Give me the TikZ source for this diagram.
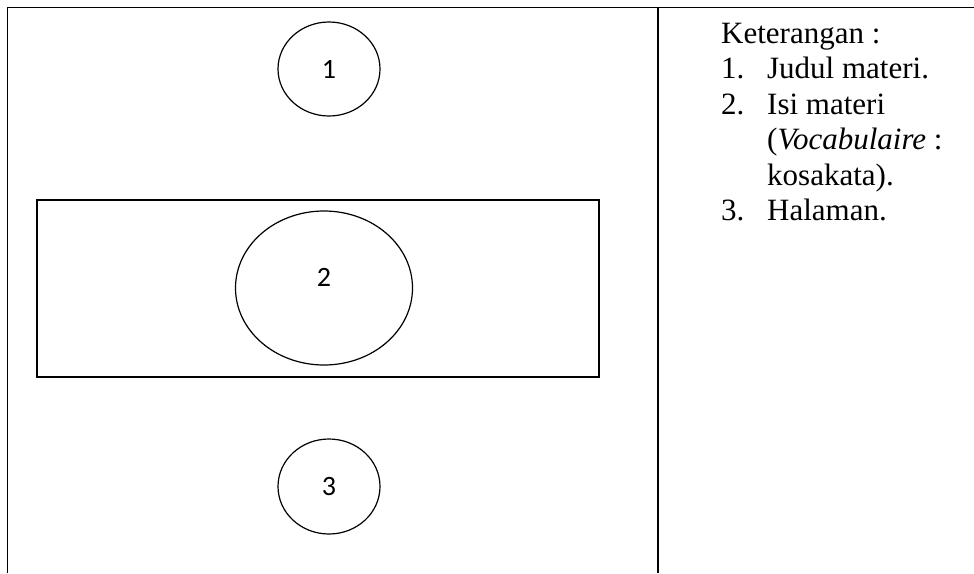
\documentclass[tikz,border=0pt]{standalone}
\usepackage{fontspec}
\setmainfont{Liberation Serif}
\newfontfamily\angkafont{Carlito}
\usetikzlibrary{shapes.geometric}
\newcommand{\ketfont}{\fontsize{31}{35.5}\selectfont}
\tikzset{
  garistabel/.style = {line width=1.6pt},                 % tepi tabel
  bentuk/.style     = {draw, line width=1.2pt, inner sep=0pt},
  bulat/.style      = {bentuk, ellipse, font=\angkafont\fontsize{28}{30}\selectfont},
  kotak/.style      = {bentuk, rectangle},
  ket/.style        = {anchor=base west, inner sep=0pt, font=\ketfont},
}
\begin{document}
\begin{tikzpicture}[x=1pt, y=-1pt]
  \useasboundingbox (0,0) rectangle (974,573);
  % tabel: garis atas, kiri dan pemisah kolom
  \coordinate (ki-atas) at (7.5,7.5);
  \coordinate (ka-atas) at (974,7.5);
  \coordinate (ki-bawah) at (7.5,573);
  \coordinate (te-atas) at (658,7.5);
  \coordinate (te-bawah) at (658,573);
  \draw[garistabel] (ki-bawah) -- (ki-atas) -- (ka-atas);
  \draw[garistabel] (te-atas) -- (te-bawah);

  % tata letak halaman
  \node[bulat, minimum width=102, minimum height=94] (judul) at (329,69) {1};
  \node[kotak, minimum width=562, minimum height=177] (bidang) at (318,288.5) {};
  \node[bulat, minimum width=177, minimum height=154] (isi) at (324,288) {};
  \node[font=\angkafont\fontsize{28}{30}\selectfont] (isi-no) at ([yshift=11pt]isi.center) {2};
  \node[bulat, minimum width=102, minimum height=95] (halaman) at (329,486.5) {3};

  % keterangan
  \node[ket] (keterangan) at (721,43) {%
    \begin{tabular}[t]{@{}p{46pt}@{}l@{}}
      \multicolumn{2}{@{}l@{}}{Keterangan :}\\
      1. & Judul materi.\\
      2. & Isi materi\\
         & (\textit{Vocabulaire} :\\
         & kosakata).\\
      3. & Halaman.
    \end{tabular}};
\end{tikzpicture}
\end{document}
